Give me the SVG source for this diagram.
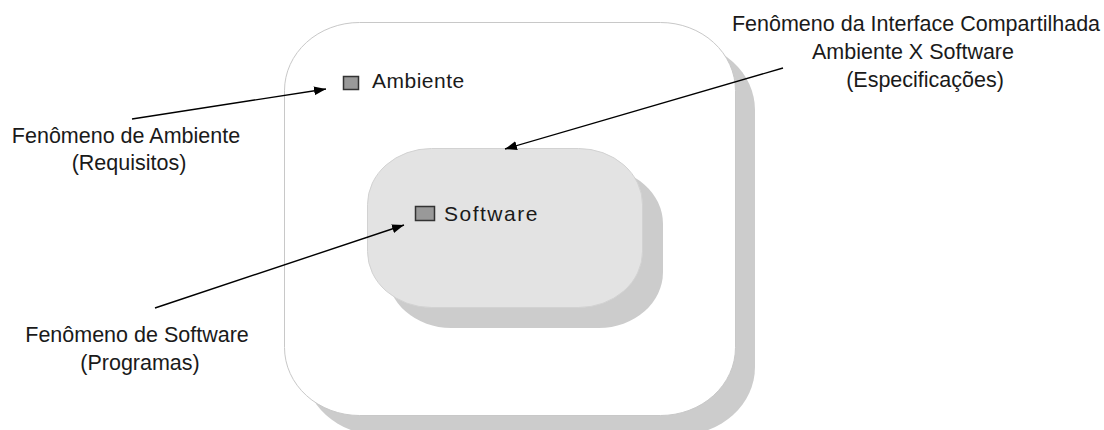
<svg xmlns="http://www.w3.org/2000/svg" width="1104" height="430" viewBox="0 0 1104 430">
  <style>
    .shadow { fill: #cccccc; stroke: none; }
    .outer { fill: #ffffff; stroke: #c8c8c8; stroke-width: 1; }
    .inner { fill: #e3e3e3; stroke: #d2d2d2; stroke-width: 1; }
    .chip { fill: #999999; stroke: #333333; stroke-width: 1.5; }
    .lbl { font-family: "Liberation Sans", Arial, sans-serif; font-size: 21px; fill: #1a1a1a; }
    .note { font-family: "Liberation Sans", Arial, sans-serif; font-size: 21.5px; fill: #1a1a1a; text-anchor: middle; }
    .conn { fill: none; stroke: #000000; stroke-width: 1.4; }
  </style>
  <defs>
    <marker id="arrow" markerUnits="userSpaceOnUse" markerWidth="13" markerHeight="10" refX="12" refY="4.5" orient="auto">
      <path d="M0,0 L12,4.5 L0,9 z" fill="#000000"/>
    </marker>
  </defs>

  <rect width="1104" height="430" fill="#ffffff"/>

  <!-- Environment domain -->
  <g id="ambiente">
    <rect class="shadow" x="304" y="42" width="451" height="393" rx="75" ry="68"/>
    <rect class="outer" x="284.5" y="22.5" width="451" height="393" rx="75" ry="68"/>
    <rect class="chip" x="343.5" y="76.5" width="15" height="13"/>
    <text class="lbl" x="372" y="88" font-size="20" letter-spacing="0.5">Ambiente</text>
  </g>

  <!-- Software domain -->
  <g id="software">
    <rect class="shadow" x="387" y="168" width="276" height="160" rx="64" ry="56"/>
    <rect class="inner" x="367.5" y="148.5" width="275" height="159" rx="64" ry="56"/>
    <rect class="chip" x="415.5" y="206.5" width="19" height="14"/>
    <text class="lbl" x="444" y="221" font-size="23" letter-spacing="1.5">Software</text>
  </g>

  <!-- Annotations -->
  <g id="nota-ambiente">
    <text class="note" x="126" y="143">Fenômeno de Ambiente</text>
    <text class="note" x="129" y="170">(Requisitos)</text>
  </g>
  <g id="nota-software">
    <text class="note" x="137" y="342">Fenômeno de Software</text>
    <text class="note" x="140" y="370">(Programas)</text>
  </g>
  <g id="nota-interface">
    <text class="note" x="916" y="31">Fenômeno da Interface Compartilhada</text>
    <text class="note" x="913" y="59">Ambiente X Software</text>
    <text class="note" x="925" y="87">(Especificações)</text>
  </g>

  <!-- Connectors -->
  <g id="connectors">
    <line class="conn" x1="132" y1="119" x2="326" y2="89" marker-end="url(#arrow)"/>
    <line class="conn" x1="783" y1="68" x2="505" y2="149" marker-end="url(#arrow)"/>
    <line class="conn" x1="155" y1="308" x2="404" y2="225" marker-end="url(#arrow)"/>
  </g>
</svg>
